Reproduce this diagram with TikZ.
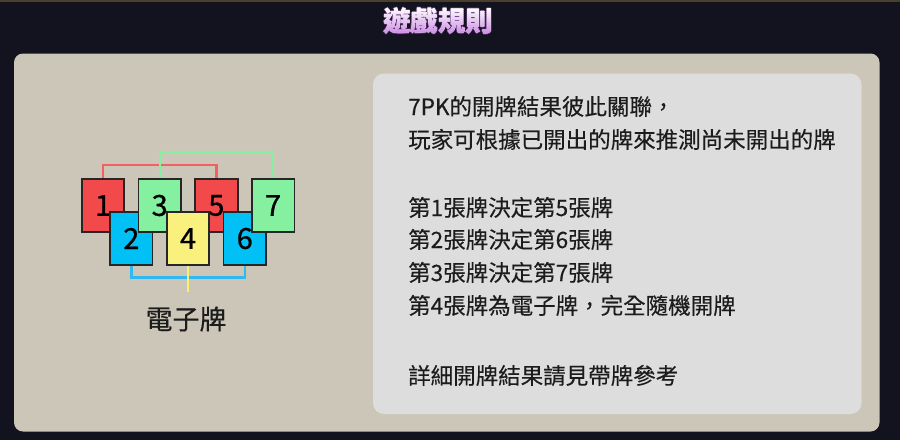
\documentclass[tikz,border=0pt]{standalone}
\usepackage{fontspec}
\setmainfont{Noto Sans CJK TC}
\usetikzlibrary{calc}
\definecolor{bgdark}{HTML}{13121F}
\definecolor{topline}{HTML}{4A3F28}
\definecolor{beige}{HTML}{CBC6B8}
\definecolor{innerpanel}{HTML}{DDDDDD}
\definecolor{cred}{HTML}{F24A4A}
\definecolor{cgreen}{HTML}{84F0A0}
\definecolor{cblue}{HTML}{00C0F6}
\definecolor{cyellow}{HTML}{FAF07E}
\definecolor{lred}{HTML}{F06262}
\definecolor{lgreen}{HTML}{84F0A0}
\definecolor{lblue}{HTML}{30B8F0}
\definecolor{lyellow}{HTML}{FAF070}
\definecolor{tviolet}{HTML}{D08AE8}
\definecolor{tglow}{HTML}{7A4A96}
\definecolor{txt}{HTML}{1C1C1C}
\begin{document}
\begin{tikzpicture}[x=1pt,y=-1pt,
  card/.style={draw=black!85, line width=1.7pt, minimum width=42.5pt, minimum height=53pt, inner sep=0pt, text=black, font=\fontsize{29}{29}\selectfont\addfontfeature{FakeBold=0.8}},
  conn/.style={line width=2.4pt},
  rtext/.style={anchor=base west, inner sep=0pt, text=txt, font=\fontsize{22.5}{22.5}\selectfont\addfontfeature{FakeBold=0.3}},
  titlef/.style={anchor=base, inner sep=0pt, font=\fontsize{27.5}{27.5}\selectfont\bfseries},
  labelf/.style={anchor=base, inner sep=0pt, text=txt, font=\fontsize{27}{27}\selectfont\addfontfeature{FakeBold=0.3}}]
\useasboundingbox (0,0) rectangle (900,440);
% background
\fill[bgdark] (0,0) rectangle (900,440);
\fill[topline] (0,0) rectangle (900,2);
\fill[beige, rounded corners=9pt] (14,53.5) rectangle (879.5,431.5);
\fill[innerpanel, rounded corners=11pt] (373,73.5) rectangle (861.5,414);
% title glow
\foreach \dx/\dy [count=\i] in {-0.8/0, 0.8/0, 0/-0.8, 0/0.8} {
  \node[titlef, text=tglow, opacity=0.7] (tglow\i) at (438+\dx,31.5+\dy) {遊戲規則};
}
% title with vertical gradient
\node[titlef, text=white] (title) at (438,31.5) {遊戲規則};
\foreach \k in {0,...,13} {
  \pgfmathsetmacro\pc{\k*100/13}
  \begin{scope}
    \clip (300,{7+2*\k}) rectangle (600,{9.3+2*\k});
    \node[titlef, text=tviolet!\pc!white] (tband\k) at (438,31.5) {遊戲規則};
  \end{scope}
}
% cards
\node[card, fill=cred]    (c1) at (103,205.5)    {1};
\node[card, fill=cblue]   (c2) at (131.35,238.5) {2};
\node[card, fill=cgreen]  (c3) at (159.7,205.5)  {3};
\node[card, fill=cred]    (c5) at (216.4,205.5)  {5};
\node[card, fill=cblue]   (c6) at (244.75,238.5) {6};
\node[card, fill=cgreen]  (c7) at (273.1,205.5)  {7};
\node[card, fill=cyellow] (c4) at (188.05,238.5) {4};
% connector levels
\coordinate (rlev) at (0,165);
\coordinate (glev) at (0,152.3);
\coordinate (blev) at (0,277.5);
\coordinate (yend) at (188.05,292);
\draw[conn, lred]   (c1.north) -- (c1.north |- rlev) -| (c5.north);
\draw[conn, lgreen] (c3.north) -- (c3.north |- glev) -| (c7.north);
\draw[conn, lblue]  (c2.south) -- (c2.south |- blev) -| (c6.south);
\draw[conn, lyellow] (c4.south) -- (yend);
\node[labelf] (elabel) at (186,329.3) {電子牌};
% right text
\node[rtext] (l1) at (408,115) {7PK的開牌結果彼此關聯，};
\node[rtext] (l2) at (408,148) {玩家可根據已開出的牌來推測尚未開出的牌};
\node[rtext] (l3) at (408,216) {第1張牌決定第5張牌};
\node[rtext] (l4) at (408,248) {第2張牌決定第6張牌};
\node[rtext] (l5) at (408,281) {第3張牌決定第7張牌};
\node[rtext] (l6) at (408,314) {第4張牌為電子牌，完全隨機開牌};
\node[rtext] (l7) at (408,384) {詳細開牌結果請見帶牌參考};
\end{tikzpicture}
\end{document}
